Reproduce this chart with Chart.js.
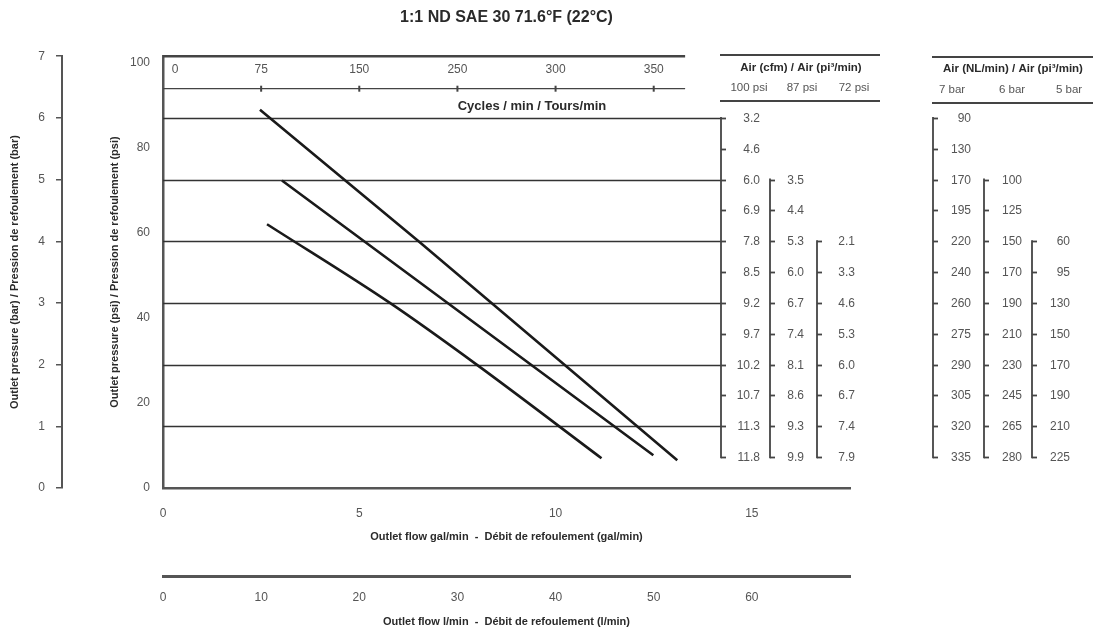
<!DOCTYPE html>
<html>
<head>
<meta charset="utf-8">
<script src="https://cdn.jsdelivr.net/npm/chart.js@4.4.0/dist/chart.umd.min.js"></script>
<style>
	html, body { margin: 0; padding: 0; background: #fff; }
</style>
</head>
<body>
<canvas id="pumpChart" width="1113" height="632"></canvas>
<script>
	// flow (gal/min) and outlet pressure (psi) for each air inlet pressure
	const air100Flow = [2.47, 6.51, 13.10];
	const air100Psi = [88.9, 58.0, 6.5];
	const air87Flow = [3.03, 7.25, 12.49];
	const air87Psi = [72.3, 43.5, 7.7];
	const air72Flow = [2.65, 5.78, 7.99, 11.17];
	const air72Psi = [62.0, 43.5, 29.0, 7.0];

	// axis ticks
	const galTicks = [0, 5, 10, 15];
	const lpmTicks = [0, 10, 20, 30, 40, 50, 60];
	const barTicks = [0, 1, 2, 3, 4, 5, 6, 7];
	const psiTicks = [0, 20, 40, 60, 80, 100];
	const gridBar = [1, 2, 3, 4, 5, 6];

	// cycles / min scale (at gal/min)
	const cycleAt = [2.5, 5, 7.5, 10, 12.5];
	const cycleLabels = ['75', '150', '250', '300', '350'];

	// air consumption, rows at outlet pressure (bar)
	const airBar = [6, 5.5, 5, 4.5, 4, 3.5, 3, 2.5, 2, 1.5, 1, 0.5];
	const cfm100 = ['3.2', '4.6', '6.0', '6.9', '7.8', '8.5', '9.2', '9.7', '10.2', '10.7', '11.3', '11.8'];
	const cfm87 = ['3.5', '4.4', '5.3', '6.0', '6.7', '7.4', '8.1', '8.6', '9.3', '9.9'];
	const cfm72 = ['2.1', '3.3', '4.6', '5.3', '6.0', '6.7', '7.4', '7.9'];
	const nl7 = ['90', '130', '170', '195', '220', '240', '260', '275', '290', '305', '320', '335'];
	const nl6 = ['100', '125', '150', '170', '190', '210', '230', '245', '265', '280'];
	const nl5 = ['60', '95', '130', '150', '170', '190', '210', '225'];

	const FONT = "'Liberation Sans', Arial, sans-serif";
	const INK = '#2a2a2a';
	const GREY = '#555';
	Chart.defaults.font.family = FONT;

	function toPoints(xs, ys){
		return xs.map((v, i) => ({x: v, y: ys[i]}));
	}

	function seg(ctx, x1, y1, x2, y2){
		ctx.beginPath();
		ctx.moveTo(x1, y1);
		ctx.lineTo(x2, y2);
		ctx.stroke();
	}

	function txt(ctx, s, x, y, align, font, color){
		ctx.font = font;
		ctx.fillStyle = color;
		ctx.textAlign = align;
		ctx.textBaseline = 'middle';
		ctx.fillText(s, x, y);
	}

	const airCols = [
		{x: 721, labels: cfm100, head: '100 psi', hx: 749, lx: 39},
		{x: 770, labels: cfm87, head: '87 psi', hx: 802, lx: 34},
		{x: 817, labels: cfm72, head: '72 psi', hx: 854, lx: 38},
		{x: 933, labels: nl7, head: '7 bar', hx: 952, lx: 38},
		{x: 984, labels: nl6, head: '6 bar', hx: 1012, lx: 38},
		{x: 1032, labels: nl5, head: '5 bar', hx: 1069, lx: 38}
	];

	const pumpExtras = {
		id: 'pumpExtras',
		beforeDatasetsDraw: (chart) => {
			const {ctx, chartArea, scales} = chart;
			const yb = scales.yBar;
			const xs = scales.x;
			ctx.save();
			ctx.strokeStyle = '#333';
			ctx.lineWidth = 1.6;
			gridBar.forEach(v => {
				const y = Math.round(yb.getPixelForValue(v)) + 0.5;
				seg(ctx, chartArea.left, y, airCols[0].x, y);
			});
			// top border + cycles scale
			const endX = xs.getPixelForValue(13.3);
			ctx.strokeStyle = '#444';
			ctx.lineWidth = 2.5;
			seg(ctx, chartArea.left, chartArea.top, endX, chartArea.top);
			const cy = chartArea.top + 32.5;
			ctx.lineWidth = 1.3;
			seg(ctx, chartArea.left, cy, endX, cy);
			ctx.lineWidth = 2;
			cycleAt.forEach((v, i) => {
				const x = xs.getPixelForValue(v);
				seg(ctx, x, cy - 3, x, cy + 3);
				txt(ctx, cycleLabels[i], x, chartArea.top + 13, 'center', '12px ' + FONT, GREY);
			});
			txt(ctx, '0', chartArea.left + 12, chartArea.top + 13, 'center', '12px ' + FONT, GREY);
			txt(ctx, 'Cycles / min / Tours/min', 532, chartArea.top + 50, 'center', 'bold 13px ' + FONT, INK);
			ctx.restore();
		},
		afterDraw: (chart) => {
			const {ctx, scales} = chart;
			const yb = scales.yBar;
			ctx.save();
			// headers
			ctx.strokeStyle = '#444';
			ctx.lineWidth = 2;
			seg(ctx, 720, 55, 880, 55);
			seg(ctx, 720, 101, 880, 101);
			seg(ctx, 932, 57, 1093, 57);
			seg(ctx, 932, 103, 1093, 103);
			txt(ctx, 'Air (cfm) / Air (pi³/min)', 801, 68, 'center', 'bold 11.5px ' + FONT, INK);
			txt(ctx, 'Air (NL/min) / Air (pi³/min)', 1013, 69, 'center', 'bold 11.5px ' + FONT, INK);

			airCols.forEach((col, c) => {
				const rows = airBar.slice(airBar.length - col.labels.length);
				const y0 = yb.getPixelForValue(rows[0]);
				const y1 = yb.getPixelForValue(rows[rows.length - 1]);
				ctx.strokeStyle = '#444';
				ctx.lineWidth = 1.8;
				seg(ctx, col.x, y0 - 1, col.x, y1 + 1);
				rows.forEach((b, i) => {
					const y = Math.round(yb.getPixelForValue(b)) + 0.5;
					seg(ctx, col.x, y, col.x + 5, y);
					txt(ctx, col.labels[i], col.x + col.lx, y, 'right', '12px ' + FONT, GREY);
				});
				txt(ctx, col.head, col.hx, c < 3 ? 88 : 90, 'center', '11.5px ' + FONT, GREY);
			});
			ctx.restore();
		}
	};

	const dataChart = {
		datasets: [
			{
				label: '100 psi',
				data: toPoints(air100Flow, air100Psi),
				borderColor: '#1a1a1a',
				borderWidth: 2.6,
				pointRadius: 0,
				tension: 0,
				fill: false,
				xAxisID: 'x',
				yAxisID: 'y'
			},
			{
				label: '87 psi',
				data: toPoints(air87Flow, air87Psi),
				borderColor: '#1a1a1a',
				borderWidth: 2.6,
				pointRadius: 0,
				tension: 0,
				fill: false,
				xAxisID: 'x',
				yAxisID: 'y'
			},
			{
				label: '72 psi',
				data: toPoints(air72Flow, air72Psi),
				borderColor: '#1a1a1a',
				borderWidth: 2.6,
				pointRadius: 0,
				cubicInterpolationMode: 'monotone',
				fill: false,
				xAxisID: 'x',
				yAxisID: 'y'
			}
		]
	};

	const config = {
		type: 'line',
		data: dataChart,
		options: {
			responsive: false,
			animation: false,
			layout: {padding: {top: 0, right: 263, bottom: 0, left: 0}},
			plugins: {
				legend: {display: false},
				tooltip: {enabled: false},
				title: {
					display: true,
					fullSize: false,
					text: '1:1 ND SAE 30 71.6°F (22°C)',
					color: INK,
					font: {size: 16, weight: 'bold'},
					padding: {top: 8, bottom: 29}
				}
			},
			scales: {
				x: {
					type: 'linear',
					position: 'bottom',
					min: 0,
					max: 17.5,
					afterBuildTicks: s => { s.ticks = galTicks.map(v => ({value: v})); },
					afterFit: s => { s.height = 88; },
					grid: {display: false, drawTicks: false},
					border: {display: true, color: '#555', width: 2.5},
					ticks: {padding: 18, color: GREY, font: {size: 12}, maxRotation: 0},
					title: {
						display: true,
						text: 'Outlet flow gal/min  -  Débit de refoulement (gal/min)',
						color: INK,
						font: {size: 11, weight: 'bold'},
						padding: {top: 0, bottom: 32}
					}
				},
				xl: {
					type: 'linear',
					position: 'bottom',
					min: 0,
					max: 70,
					afterBuildTicks: s => { s.ticks = lpmTicks.map(v => ({value: v})); },
					afterFit: s => { s.height = 56; },
					grid: {display: false, drawTicks: false},
					border: {display: true, color: '#555', width: 3},
					ticks: {padding: 14, color: GREY, font: {size: 12}, maxRotation: 0},
					title: {
						display: true,
						text: 'Outlet flow l/min  -  Débit de refoulement (l/min)',
						color: INK,
						font: {size: 11, weight: 'bold'},
						padding: {top: 0, bottom: 3}
					}
				},
				y: {
					type: 'linear',
					position: 'left',
					min: 0,
					max: 101.5,
					afterBuildTicks: s => { s.ticks = psiTicks.map(v => ({value: v})); },
					afterFit: s => { s.width = 101; },
					grid: {display: false, drawTicks: false},
					border: {display: true, color: '#555', width: 2.5},
					ticks: {padding: 13, color: GREY, font: {size: 12}},
					title: {
						display: true,
						text: 'Outlet pressure (psi) / Pression de refoulement (psi)',
						color: INK,
						font: {size: 11, weight: 'bold'},
						padding: {top: 46, bottom: 0}
					}
				},
				yBar: {
					type: 'linear',
					position: 'left',
					min: 0,
					max: 7,
					afterBuildTicks: s => { s.ticks = barTicks.map(v => ({value: v})); },
					afterFit: s => { s.width = 62; },
					grid: {drawOnChartArea: false, drawTicks: true, tickLength: 6, color: '#555', lineWidth: 1.5},
					border: {display: true, color: '#555', width: 2},
					ticks: {padding: 11, color: GREY, font: {size: 12}},
					title: {
						display: true,
						text: 'Outlet pressure (bar) / Pression de refoulement (bar)',
						color: INK,
						font: {size: 11, weight: 'bold'},
						padding: {top: 8, bottom: 0}
					}
				}
			}
		},
		plugins: [pumpExtras]
	};

	const myChart = new Chart(
		document.getElementById('pumpChart'),
		config
	);
</script>
</body>
</html>
